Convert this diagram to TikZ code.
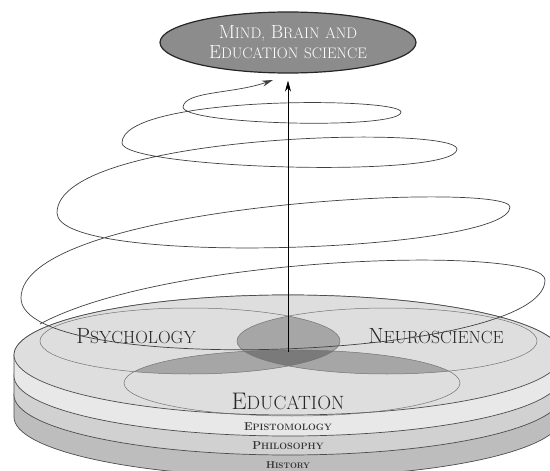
\documentclass[tikz,border=0pt]{standalone}
\usepackage{fontspec}
\usepackage{tikz}
\usetikzlibrary{arrows.meta,shapes.geometric}
\colorlet{rim}{black!70}
\def\slab#1#2#3{\filldraw[fill=#3,draw=rim,line width=0.7pt] (14,{355+#1}) -- (14,{355+#2}) arc[start angle=180,end angle=360,x radius=274pt,y radius=60pt] -- (562,{355+#1}) arc[start angle=0,end angle=180,x radius=274pt,y radius=60pt] -- cycle;}
\def\capsw#1#2{#1\scalebox{0.8}{#2}}

\begin{document}
\begin{tikzpicture}[x=1pt,y=-1pt,
	lbl/.style={text=black!85,font=\fontsize{22}{26}\selectfont},
	band/.style={text=black!80,font=\fontsize{11.5}{14}\selectfont\bfseries},
	venn/.style={draw=black!55,line width=0.5pt},
	coil/.style={draw=black!75,line width=0.7pt},
	tip/.style={-{Stealth[length=11pt,width=6pt]}}]
		%%%%% START %%%%%
		\useasboundingbox (0,0) rectangle (550,471);
		\clip (0,0) rectangle (550,471);
		
		% disc, bottom layer first
		\slab{40}{62}{black!26}
		\slab{21}{40}{black!18}
		\slab{0}{21}{black!9}
		\filldraw[fill=black!13,draw=rim,line width=0.7pt] (288,355) ellipse [x radius=274pt, y radius=60pt];
		
		% overlaps
		\begin{scope}
			\clip (190,341) ellipse [x radius=150pt, y radius=33pt];
			\fill[black!35] (387,341) ellipse [x radius=150pt, y radius=33pt];
			\fill[black!35] (292,383) ellipse [x radius=168pt, y radius=33pt];
		\end{scope}
		\begin{scope}
			\clip (387,341) ellipse [x radius=150pt, y radius=33pt];
			\fill[black!35] (292,383) ellipse [x radius=168pt, y radius=33pt];
		\end{scope}
		\begin{scope}
			\clip (190,341) ellipse [x radius=150pt, y radius=33pt];
			\clip (387,341) ellipse [x radius=150pt, y radius=33pt];
			\fill[black!52] (292,383) ellipse [x radius=168pt, y radius=33pt];
		\end{scope}
		\draw[venn] (190,341) ellipse [x radius=150pt, y radius=33pt];
		\draw[venn] (387,341) ellipse [x radius=150pt, y radius=33pt];
		\draw[venn] (292,383) ellipse [x radius=168pt, y radius=33pt];
		
		\node[lbl] (psy) at (136,336) {\capsw{P}{SYCHOLOGY}};
		\node[lbl] (neu) at (436,336) {\capsw{N}{EUROSCIENCE}};
		\node[lbl,font=\fontsize{24}{28}\selectfont] (edu) at (288,401) {\capsw{E}{DUCATION}};
		\node[band] (epi) at (288,427) {\capsw{E}{PISTOMOLOGY}};
		\node[band] (phi) at (288,446) {\capsw{P}{HILOSOPHY}};
		\node[band,font=\fontsize{10}{12}\selectfont\bfseries] (his) at (288,465) {\capsw{H}{ISTORY}};
		
		% goal
		\node[ellipse,draw=black!85,line width=1.2pt,fill=black!45,minimum width=256pt,minimum height=61pt,inner sep=0pt,align=center,text=white,font=\fontsize{19}{20}\selectfont] (mbe) at (288,42.5) {\capsw{M}{IND,} \capsw{B}{RAIN} \scalebox{0.8}{AND}\\\capsw{E}{DUCATION} \scalebox{0.8}{SCIENCE}};
		
		% spiral
		\coordinate (hub) at (288,352);
		\coordinate (curl) at (273,80);
		\draw[coil,tip] (40,324) .. controls +(130,-70) and +(0,-35) .. (545,280)
			.. controls +(0,80) and +(0,80) .. (21,298)
			.. controls +(0,-95) and +(0,-26) .. (510,207)
			.. controls +(0,45) and +(0,55) .. (57,213)
			.. controls +(0,-80) and +(0,-24) .. (457,149)
			.. controls +(0,30) and +(0,26) .. (122,143)
			.. controls +(0,-48) and +(0,-15) .. (401,112)
			.. controls +(0,18) and +(0,18) .. (183,107)
			.. controls +(2,-16) and +(-40,14) .. (curl);
		
		\draw[tip,line width=0.8pt,shorten >=7pt] (hub) -- (mbe.south);
		%%%%% END %%%%%
\end{tikzpicture}
\end{document}
